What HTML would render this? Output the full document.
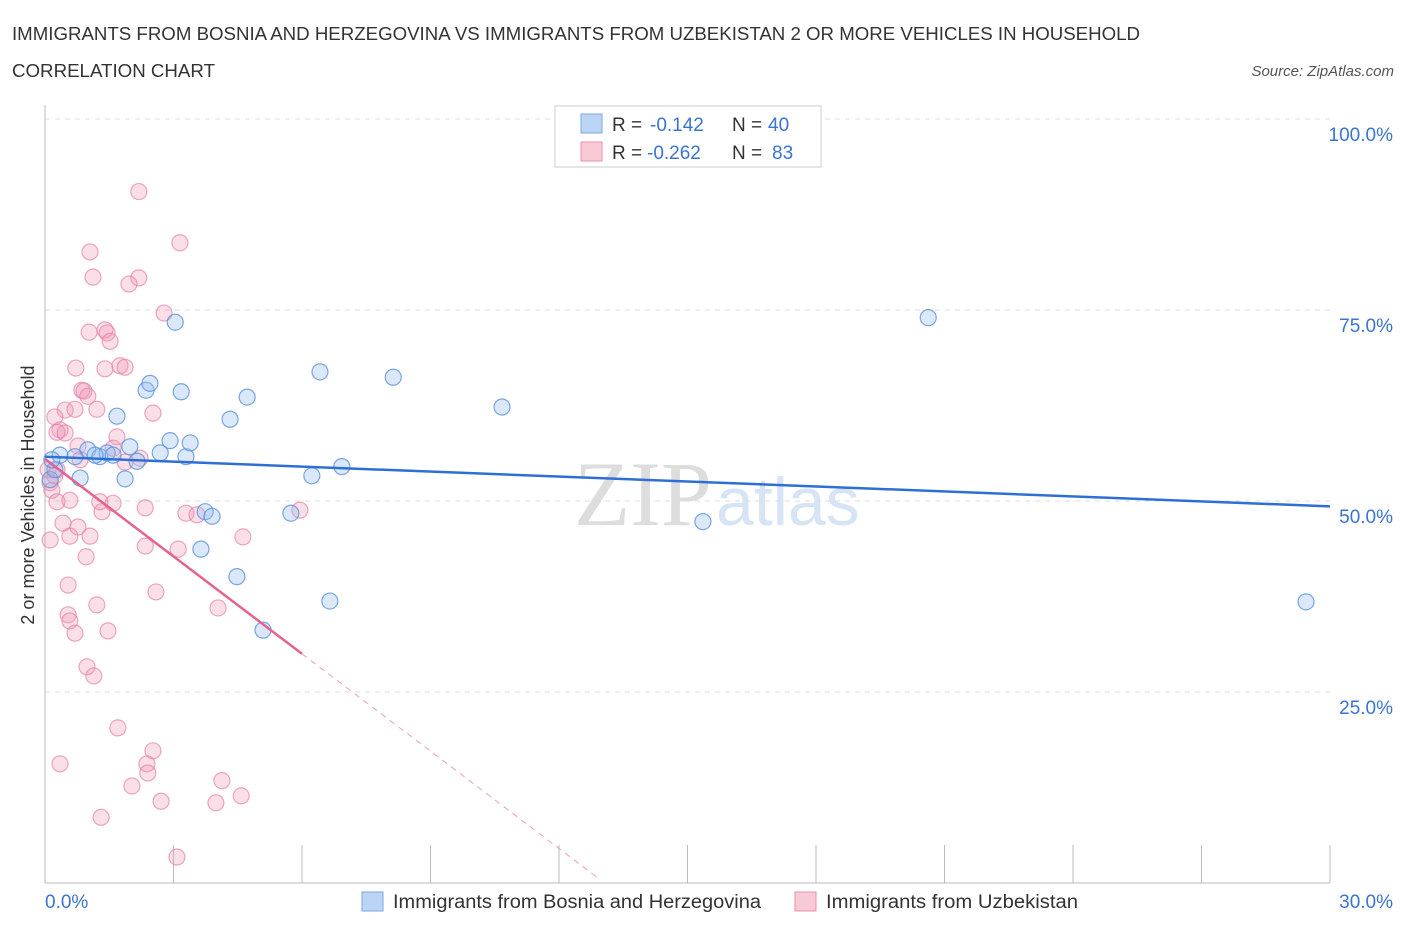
<!DOCTYPE html>
<html><head><meta charset="utf-8"><style>
body{margin:0;background:#fff;font-family:"Liberation Sans",sans-serif;}
svg{display:block}
</style></head><body>
<svg id="c" width="1406" height="930">
<text x="12" y="40" font-size="18" fill="#333" textLength="1128" lengthAdjust="spacingAndGlyphs">IMMIGRANTS FROM BOSNIA AND HERZEGOVINA VS IMMIGRANTS FROM UZBEKISTAN 2 OR MORE VEHICLES IN HOUSEHOLD</text>
<text x="12" y="77" font-size="18" fill="#333" textLength="203" lengthAdjust="spacingAndGlyphs">CORRELATION CHART</text>
<text x="1394" y="76" font-size="15" fill="#555" font-style="italic" text-anchor="end">Source: ZipAtlas.com</text>
<text x="712" y="525" font-size="92" fill="#ddd" text-anchor="end" font-family="Liberation Serif">ZIP</text>
<text x="716" y="525" font-size="68" fill="#d6e4f5">atlas</text>
<g id="grid"></g><g id="pts"></g><g id="lines"></g>
<text transform="translate(34,495) rotate(-90)" font-size="18" fill="#333" text-anchor="middle">2 or more Vehicles in Household</text>
<g>
<rect x="555" y="106" width="266" height="61" fill="#fff" stroke="#ccc"/>
<rect x="581" y="114" width="21" height="19" fill="#bcd5f5" stroke="#7aa8e0"/>
<rect x="581" y="142" width="21" height="19" fill="#f9c9d6" stroke="#e890ac"/>
<text y="131" font-size="19" fill="#333"><tspan x="612">R =</tspan><tspan x="650" fill="#3a74d0">-0.142</tspan><tspan x="732">N =</tspan><tspan x="768" fill="#3a74d0">40</tspan></text>
<text y="159" font-size="19" fill="#333"><tspan x="612">R =</tspan><tspan x="647" fill="#3a74d0">-0.262</tspan><tspan x="732">N =</tspan><tspan x="772" fill="#3a74d0">83</tspan></text>
</g>
<g>
<rect x="362" y="892" width="21" height="19" fill="#bcd5f5" stroke="#7aa8e0"/>
<text x="393" y="908" font-size="19" fill="#333" textLength="368" lengthAdjust="spacingAndGlyphs">Immigrants from Bosnia and Herzegovina</text>
<rect x="795" y="892" width="21" height="19" fill="#f9c9d6" stroke="#e890ac"/>
<text x="826" y="908" font-size="19" fill="#333" textLength="252" lengthAdjust="spacingAndGlyphs">Immigrants from Uzbekistan</text>
</g>
</svg>
<script>
const blueX=[0.12,0.23,0.35,0.70,0.82,1.00,1.28,1.45,1.59,1.68,1.87,1.98,2.15,2.36,2.45,2.69,2.92,3.04,3.18,3.29,3.39,3.64,3.74,3.90,4.32,4.48,4.72,5.09,5.74,6.23,6.42,6.65,6.93,8.13,10.67,15.36,20.62,29.44,0.16,1.17];
const blueY=[52.8,54.1,56.0,55.8,53.0,56.7,55.8,56.3,56.0,61.1,52.9,57.1,55.2,64.5,65.4,56.3,57.9,73.4,64.3,55.8,57.6,43.7,48.6,48.0,60.7,40.1,63.6,33.1,48.4,53.3,66.9,36.9,54.5,66.2,62.3,47.3,74.0,36.8,55.4,56.0];
const pinkX=[2.19,3.15,1.05,1.12,2.19,1.96,2.78,1.03,1.40,1.45,1.52,0.72,1.40,1.75,1.87,0.86,0.91,1.00,0.47,0.70,1.21,2.52,0.23,0.35,0.28,0.47,0.77,1.68,1.59,1.87,2.22,0.07,0.12,0.23,0.16,0.28,0.58,1.28,1.59,1.33,2.34,3.29,3.55,5.95,0.42,0.77,0.58,0.12,1.05,4.62,2.34,3.11,0.96,0.54,2.59,1.21,4.04,0.54,0.58,0.70,1.47,0.98,1.14,1.70,2.52,0.35,2.38,2.40,2.03,4.13,4.58,2.71,3.99,1.31,3.08,0.28,0.82];
const pinkY=[90.5,83.8,82.6,79.3,79.2,78.4,74.6,72.1,72.4,72.0,70.9,67.4,67.3,67.7,67.5,64.5,64.4,63.7,61.9,62.0,62.0,61.5,61.0,59.3,59.0,58.9,57.2,58.4,56.9,55.1,55.6,54.1,52.4,53.3,51.4,49.9,50.1,49.9,49.7,48.6,49.1,48.4,48.2,48.8,47.1,46.6,45.4,44.9,45.4,45.3,44.1,43.7,42.7,39.0,38.1,36.4,36.0,35.1,34.3,32.7,33.0,28.3,27.1,20.3,17.3,15.6,15.6,14.4,12.7,13.4,11.4,10.7,10.5,8.6,3.4,54.1,55.4];
const xTicks=[0,3,6,9,12,15,18,21,24,27,30];
const yTicks=[25,50,75,100];
const blueTrend=[[0,55.8],[30,49.3]];
const pinkTrend=[[0,55.5],[6,30.0]];
const pinkDash=[[6,30.0],[12.9,0.7]];
const X=v=>45+v/30*1285, Y=v=>883-v/100*764;
const NS="http://www.w3.org/2000/svg";
function mk(p,t,a){const e=document.createElementNS(NS,t);for(const k in a)e.setAttribute(k,a[k]);p.appendChild(e);return e;}
const g=document.getElementById('grid');
yTicks.forEach(t=>{const l=mk(g,'line',{x1:45,x2:1330,y1:Y(t),y2:Y(t),stroke:'#ddd','stroke-dasharray':'5,5'});


const tx=mk(g,'text',{x:1393,y:Y(t)+22,'font-size':19,fill:'#3a74d0','text-anchor':'end'});tx.textContent=t.toFixed(1)+'%';

});
mk(g,'line',{x1:45,x2:45,y1:105,y2:883,stroke:'#bbb'});
mk(g,'line',{x1:45,x2:1330,y1:883,y2:883,stroke:'#bbb'});
xTicks.forEach(t=>{const l=mk(g,'line',{x1:X(t),x2:X(t),y1:845,y2:883,stroke:'#bbb'});

});
[[0,45,'start'],[30,1393,'end']].forEach(([t,x,a])=>{const tx=mk(g,'text',{x:x,y:908,'font-size':19,fill:'#3a74d0','text-anchor':a});tx.textContent=t.toFixed(1)+'%';

});
const p=document.getElementById('pts');
pinkX.forEach((x,i)=>{const c=mk(p,'circle',{cx:X(x),cy:Y(pinkY[i]),r:8,fill:'rgba(240,150,178,0.3)',stroke:'rgba(230,130,165,0.7)','stroke-width':1.2});

});
blueX.forEach((x,i)=>{const c=mk(p,'circle',{cx:X(x),cy:Y(blueY[i]),r:8,fill:'rgba(150,190,240,0.35)',stroke:'rgba(90,145,220,0.8)','stroke-width':1.2});

});
const L=document.getElementById('lines');
function ln(d,col,w,dash,name){const l=mk(L,'line',{x1:X(d[0][0]),y1:Y(d[0][1]),x2:X(d[1][0]),y2:Y(d[1][1]),stroke:col,'stroke-width':w});if(dash)l.setAttribute('stroke-dasharray',dash);

}
ln(blueTrend,'#2e6fd6',2.5,null,'bosnia-trendline');
ln(pinkTrend,'#e5638f',2.5,null,'uzbekistan-trendline');
ln(pinkDash,'#eaa0b8',1,'6,5','uzbekistan-trendline-extension');
</script>
</body></html>
